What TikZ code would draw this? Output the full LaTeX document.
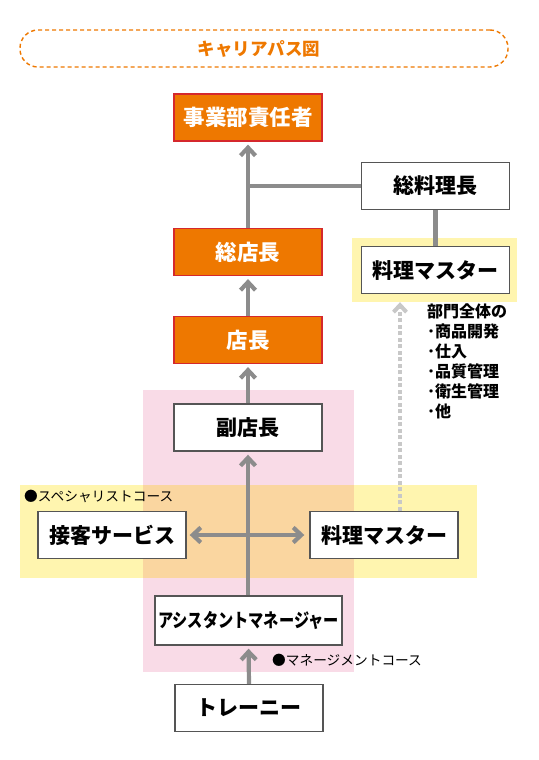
\documentclass[tikz,border=0pt]{standalone}
\usepackage{fontspec}
\setmainfont{Noto Sans CJK JP}
\usetikzlibrary{arrows.meta}
\definecolor{boxorange}{HTML}{EE7800}
\definecolor{boxred}{HTML}{D5282C}
\definecolor{boxgray}{HTML}{555555}
\definecolor{conngray}{HTML}{8C8C8C}
\definecolor{dotgray}{HTML}{C8C8C8}
\definecolor{bgyellow}{HTML}{FFF5AF}
\definecolor{bgpink}{HTML}{F9DBE7}
\definecolor{bgpeach}{HTML}{FAD6A0}
\tikzset{
  obox/.style={draw=boxred, fill=boxorange, line width=1.2pt, minimum width=148pt,
    minimum height=47pt, inner sep=0pt, text=white, font=\bfseries\fontsize{21.5}{22}\selectfont},
  wbox/.style={draw=boxgray, fill=white, line width=1.4pt, minimum width=148pt,
    minimum height=47pt, inner sep=0pt, text=black, font=\bfseries\fontsize{21}{22}\selectfont},
  conn/.style={draw=conngray, line width=4.2pt},
  bigbarb/.tip={Straight Barb[length=8pt,width=15pt]},
  uptip/.style={-bigbarb, shorten >=3pt},
  dotconn/.style={draw=dotgray, line width=4pt, dash pattern=on 4pt off 2.5pt},
  coursetext/.style={font=\fontsize{13.7}{14}\selectfont, inner sep=0pt, anchor=west},
}
\begin{document}
\begin{tikzpicture}[x=1pt,y=-1pt]
\useasboundingbox (0,0) rectangle (538,760);
% backgrounds
\fill[bgyellow] (352,238) rectangle (517,302);
\fill[bgpink] (143,390) rectangle (354,672);
\fill[bgyellow] (20,485) rectangle (477,578);
\fill[bgpeach] (143,485) rectangle (354,578);
% title
\node[draw=boxorange, dashed, dash pattern=on 4pt off 3pt, line width=1.4pt, rounded corners=18pt,
  minimum width=488pt, minimum height=37pt] (title) at (264,48.5) {};
\node[text=boxorange, font=\bfseries\fontsize{17.5}{18}\selectfont, inner sep=0pt] (titletext) at (259,48.5) {キャリアパス図};
% nodes
\node[obox] (jigyo) at (248,117.5) {事業部責任者};
\node[wbox] (souri) at (435.5,186) {総料理長};
\node[obox] (souten) at (248,252) {総店長};
\node[wbox] (ryouri1) at (435.5,270) {料理マスター};
\node[obox] (ten) at (248,340) {店長};
\node[wbox] (fuku) at (248,427.5) {副店長};
\node[wbox] (sekkyaku) at (112,535) {接客サービス};
\node[wbox] (ryouri2) at (384,535) {料理マスター};
\node[wbox, minimum width=187pt, minimum height=49pt] (assist) at (248.5,620.5)
  {\scalebox{0.8}[1]{\fontsize{19}{19}\selectfont アシスタントマネージャー}};
\node[wbox] (trainee) at (249,708) {トレーニー};
% labels
\node[coursetext] (spec) at (24,496) {●スペシャリストコース};
\node[coursetext] (mgmt) at (272,660) {●マネージメントコース};
\node[anchor=north west, align=left, inner sep=0pt, font=\bfseries\fontsize{16}{20}\selectfont]
  (duty) at (427,304) {部門全体の\\･商品開発\\･仕入\\･品質管理\\･衛生管理\\･他};
% connectors
\draw[conn] (souri.west) -- (souri.west -| souten.north);
\draw[conn] (souri.south) -- (ryouri1.north);
\draw[conn, uptip] (souten.north) -- (jigyo.south);
\draw[conn, uptip] (ten.north) -- (souten.south);
\draw[conn, uptip] (fuku.north) -- (ten.south);
\draw[conn, uptip] (assist.north -| fuku.south) -- (fuku.south);
\draw[conn, bigbarb-bigbarb, shorten <=3pt, shorten >=5pt] (sekkyaku.east) -- (ryouri2.west);
\draw[conn, uptip] (trainee.north) -- (assist.south);
\coordinate (dotstart) at ([xshift=16pt]ryouri2.north);
\draw[dotconn, -{Straight Barb[length=7pt,width=13pt]}, shorten >=8pt]
  (dotstart) -- (dotstart |- ryouri1.south);
\end{tikzpicture}
\end{document}
